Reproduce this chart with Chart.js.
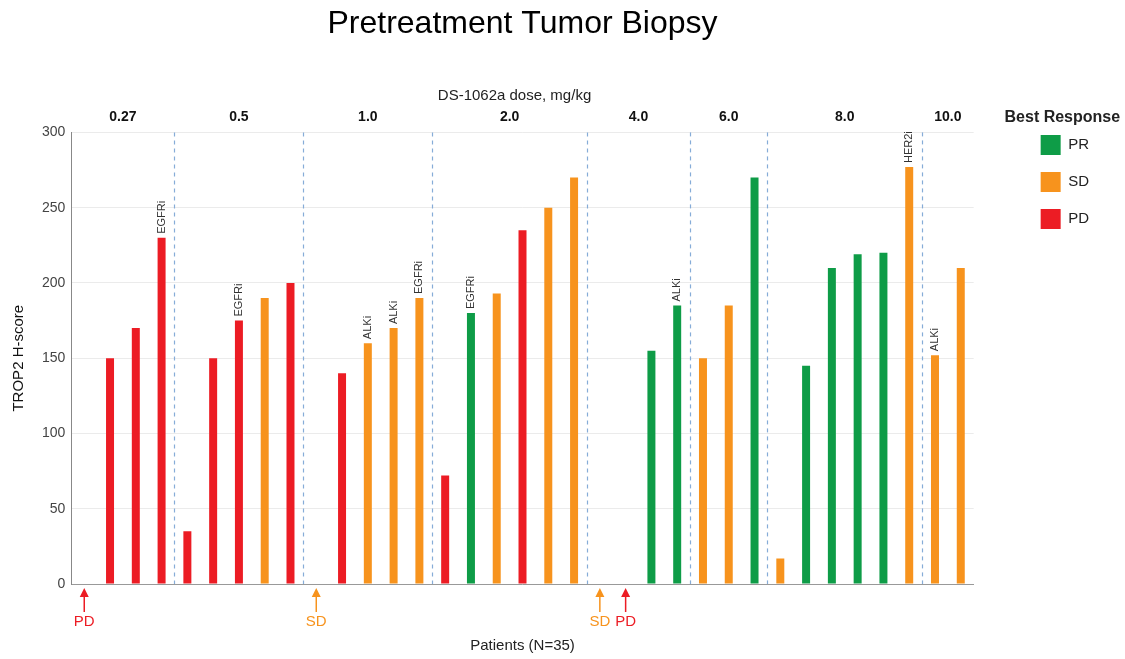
<!DOCTYPE html>
<html lang="en">
<head>
<meta charset="UTF-8">
<title>Pretreatment Tumor Biopsy</title>
<script src="https://cdn.jsdelivr.net/npm/chart.js"></script>
<style>
  body { margin: 0; background: #ffffff; font-family: "Liberation Sans", Arial, sans-serif; }
  .wrap { width: 1125px; height: 659px; }
</style>
</head>
<body>
<div class="wrap"><canvas id="biopsyChart"></canvas></div>
<script>
// one entry per patient, left to right
var patients = [];
for (var p = 1; p <= 35; p++) patients.push('Pt ' + p);

var hScore = [0, 150, 170, 230, 35, 150, 175, 190, 200, 0, 140, 160, 170, 190, 72, 180, 193, 235,
  250, 270, 0, 0, 155, 185, 150, 185, 270, 17, 145, 210, 219, 220, 277, 152, 210];

var bestResponse = ['PD', 'PD', 'PD', 'PD', 'PD', 'PD', 'PD', 'SD', 'PD', 'SD', 'PD', 'SD', 'SD', 'SD',
  'PD', 'PR', 'SD', 'PD', 'SD', 'SD', 'SD', 'PD', 'PR', 'PR', 'SD', 'SD', 'PR', 'SD', 'PR', 'PR', 'PR',
  'PR', 'SD', 'SD', 'SD'];

var priorTherapy = ['', '', '', 'EGFRi', '', '', 'EGFRi', '', '', '', '', 'ALKi', 'ALKi', 'EGFRi', '',
  'EGFRi', '', '', '', '', '', '', '', 'ALKi', '', '', '', '', '', '', '', '', 'HER2i', 'ALKi', ''];

var doseLabels = ['0.27', '0.5', '1.0', '2.0', '4.0', '6.0', '8.0', '10.0'];
var doseCounts = [4, 5, 5, 6, 4, 3, 6, 2];

var responses = ['PR', 'SD', 'PD'];
var responseColors = { PR: '#0e9c47', SD: '#f7931d', PD: '#ec1c24' };

function seriesFor(resp) {
  return hScore.map(function (v, i) {
    return (bestResponse[i] === resp && v > 0) ? v : null;
  });
}

var datasets = responses.map(function (r) {
  return {
    label: r,
    data: seriesFor(r),
    backgroundColor: responseColors[r],
    borderWidth: 0,
    grouped: false,
    barPercentage: 0.31,
    categoryPercentage: 1.0
  };
});

// dashed dose dividers, dose labels, prior therapy notes, arrows for 0 scores
var overlayPlugin = {
  id: 'overlay',
  afterDatasetsDraw: function (chart) {
    var ctx = chart.ctx;
    var x = chart.scales.x;
    var y = chart.scales.y;
    var area = chart.chartArea;
    ctx.save();

    // dose group dividers + labels
    var start = 0;
    ctx.font = 'bold 14px "Liberation Sans", Arial, sans-serif';
    ctx.fillStyle = '#111';
    ctx.textAlign = 'center';
    ctx.textBaseline = 'middle';
    for (var g = 0; g < doseCounts.length; g++) {
      var end = start + doseCounts[g] - 1;
      var cx = (x.getPixelForValue(start) + x.getPixelForValue(end)) / 2;
      ctx.fillText(doseLabels[g], cx, area.top - 15);
      if (g < doseCounts.length - 1) {
        var dx = Math.round((x.getPixelForValue(end) + x.getPixelForValue(end + 1)) / 2) + 0.5;
        ctx.save();
        ctx.strokeStyle = '#86acd8';
        ctx.lineWidth = 1.2;
        ctx.setLineDash([4, 4]);
        ctx.beginPath();
        ctx.moveTo(dx, area.top);
        ctx.lineTo(dx, area.bottom);
        ctx.stroke();
        ctx.restore();
      }
      start = end + 1;
    }

    ctx.font = '15px "Liberation Sans", Arial, sans-serif';
    ctx.fillStyle = '#222';
    ctx.fillText('DS-1062a dose, mg/kg', (area.left + area.right) / 2 - 8, area.top - 37);

    // prior therapy notes, rotated
    ctx.font = '11px "Liberation Sans", Arial, sans-serif';
    ctx.fillStyle = '#333';
    for (var i = 0; i < priorTherapy.length; i++) {
      if (!priorTherapy[i]) continue;
      var px = x.getPixelForValue(i);
      var py = y.getPixelForValue(hScore[i]) - 4;
      ctx.save();
      ctx.translate(px, py);
      ctx.rotate(-Math.PI / 2);
      ctx.textAlign = 'left';
      ctx.textBaseline = 'middle';
      ctx.fillText(priorTherapy[i], 0, 0);
      ctx.restore();
    }

    // arrows for patients with an H-score of 0
    for (var k = 0; k < hScore.length; k++) {
      if (hScore[k] !== 0) continue;
      var ax = x.getPixelForValue(k);
      var col = responseColors[bestResponse[k]];
      var top = area.bottom + 4;
      ctx.strokeStyle = col;
      ctx.fillStyle = col;
      ctx.lineWidth = 1.5;
      ctx.beginPath();
      ctx.moveTo(ax, top + 6);
      ctx.lineTo(ax, top + 24);
      ctx.stroke();
      ctx.beginPath();
      ctx.moveTo(ax, top);
      ctx.lineTo(ax - 4.5, top + 9);
      ctx.lineTo(ax + 4.5, top + 9);
      ctx.closePath();
      ctx.fill();
      ctx.font = '15px "Liberation Sans", Arial, sans-serif';
      ctx.textAlign = 'center';
      ctx.textBaseline = 'middle';
      ctx.fillText(bestResponse[k], ax, top + 34);
    }
    ctx.restore();
  },
  afterDraw: function (chart) {
    // legend heading, written here so it is not cut by the narrow legend box
    var lg = chart.legend;
    var ctx = chart.ctx;
    ctx.save();
    ctx.font = 'bold 16px "Liberation Sans", Arial, sans-serif';
    ctx.fillStyle = '#222';
    ctx.textAlign = 'center';
    ctx.textBaseline = 'middle';
    ctx.fillText('Best Response', (lg.left + lg.right) / 2 + 1, lg.top + 118);
    ctx.restore();
  }
};

Chart.defaults.font.family = '"Liberation Sans", Arial, sans-serif';

new Chart(document.getElementById('biopsyChart').getContext('2d'), {
  type: 'bar',
  data: { labels: patients, datasets: datasets },
  plugins: [overlayPlugin],
  options: {
    responsive: true,
    maintainAspectRatio: false,
    animation: false,
    layout: { padding: { left: 6, right: 26, top: 0, bottom: 0 } },
    plugins: {
      title: {
        display: true,
        fullSize: false,
        text: 'Pretreatment Tumor Biopsy',
        color: '#000',
        font: { size: 32, weight: 'normal' },
        padding: { top: 5, bottom: 89 }
      },
      legend: {
        position: 'right',
        align: 'start',
        title: {
          display: true,
          text: '',
          font: { size: 15, weight: 'bold' },
          padding: { top: 92, bottom: 8 }
        },
        labels: {
          boxWidth: 20,
          boxHeight: 20,
          padding: 17,
          color: '#222',
          font: { size: 15 }
        }
      },
      tooltip: { enabled: false }
    },
    scales: {
      x: {
        grid: { display: false },
        border: { color: '#999' },
        ticks: { display: false },
        title: {
          display: true,
          text: 'Patients (N=35)',
          color: '#222',
          font: { size: 15 },
          padding: { top: 45, bottom: 4 }
        }
      },
      y: {
        min: 0,
        max: 300,
        ticks: { stepSize: 50, color: '#444', font: { size: 14 }, padding: 6 },
        grid: { color: '#ebebeb', drawTicks: false },
        border: { color: '#888' },
        title: {
          display: true,
          text: 'TROP2 H-score',
          color: '#111',
          font: { size: 15 },
          padding: { bottom: 8 }
        }
      },
      gap: {
        position: 'right',
        display: true,
        grid: { display: false },
        border: { display: false },
        ticks: { display: false },
        afterFit: function (s) { s.width = 50; }
      }
    }
  }
});
</script>
</body>
</html>
